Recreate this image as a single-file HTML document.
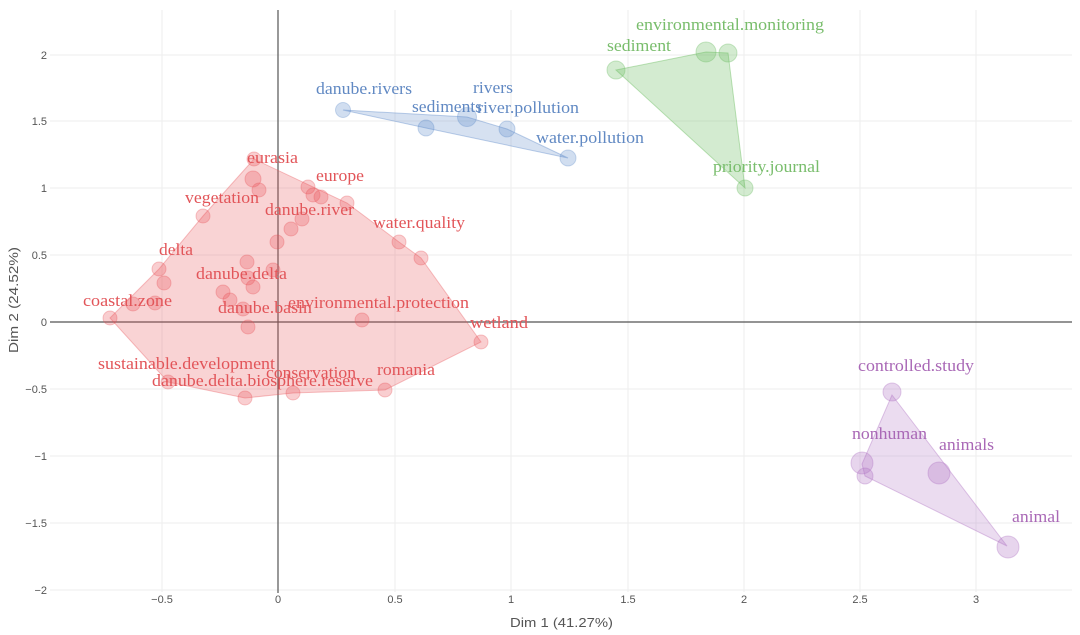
<!DOCTYPE html>
<html><head><meta charset="utf-8">
<style>
html,body{margin:0;padding:0;background:#fff;}
svg{display:block;}
.t{font-family:"Liberation Sans",sans-serif;font-size:11px;fill:#555;}
.lr{font-family:"Liberation Serif",serif;font-size:17px;fill:#e25559;}
.lb{font-family:"Liberation Serif",serif;font-size:17px;fill:#6189c3;}
.lg{font-family:"Liberation Serif",serif;font-size:17px;fill:#79bd6c;}
.lp{font-family:"Liberation Serif",serif;font-size:17px;fill:#a968b6;}
</style></head>
<body>
<svg width="1080" height="635" viewBox="0 0 1080 635" xmlns="http://www.w3.org/2000/svg">
<rect width="1080" height="635" fill="#fff"/>
<!-- grid -->
<g stroke="#eeeeee" stroke-width="1">
<line x1="162" y1="10" x2="162" y2="592"/>
<line x1="395" y1="10" x2="395" y2="592"/>
<line x1="511" y1="10" x2="511" y2="592"/>
<line x1="628" y1="10" x2="628" y2="592"/>
<line x1="744" y1="10" x2="744" y2="592"/>
<line x1="860" y1="10" x2="860" y2="592"/>
<line x1="976" y1="10" x2="976" y2="592"/>
<line x1="50" y1="55" x2="1072" y2="55"/>
<line x1="50" y1="121" x2="1072" y2="121"/>
<line x1="50" y1="188" x2="1072" y2="188"/>
<line x1="50" y1="255" x2="1072" y2="255"/>
<line x1="50" y1="389" x2="1072" y2="389"/>
<line x1="50" y1="456" x2="1072" y2="456"/>
<line x1="50" y1="523" x2="1072" y2="523"/>
<line x1="50" y1="590" x2="1072" y2="590"/>
</g>
<!-- zero lines -->
<line x1="50" y1="322" x2="1072" y2="322" stroke="#555" stroke-width="1.2"/>
<line x1="278" y1="10" x2="278" y2="593" stroke="#555" stroke-width="1.2"/>

<!-- red hull -->
<polygon points="110,318 159,269 203,216 254,159 347,203 399,242 421,258 481,342 385,390 293,393 245,398 168,382" fill="rgba(232,80,85,0.25)" stroke="rgba(232,80,85,0.35)" stroke-width="1"/>
<g fill="rgba(232,80,85,0.28)" stroke="rgba(232,80,85,0.3)" stroke-width="1">
<circle cx="110" cy="318" r="7"/><circle cx="133" cy="304" r="7"/><circle cx="155" cy="303" r="7"/>
<circle cx="159" cy="269" r="7"/><circle cx="164" cy="283" r="7"/><circle cx="203" cy="216" r="7"/>
<circle cx="223" cy="292" r="7"/><circle cx="230" cy="300" r="7"/><circle cx="243" cy="309" r="7"/>
<circle cx="248" cy="327" r="7"/><circle cx="247" cy="262" r="7"/><circle cx="248" cy="278" r="7"/>
<circle cx="253" cy="287" r="7"/><circle cx="273" cy="270" r="7"/><circle cx="254" cy="159" r="7"/>
<circle cx="253" cy="179" r="8"/><circle cx="259" cy="190" r="7"/><circle cx="277" cy="242" r="7"/>
<circle cx="291" cy="229" r="7"/><circle cx="302" cy="219" r="7"/><circle cx="308" cy="187" r="7"/>
<circle cx="313" cy="195" r="7"/><circle cx="321" cy="197" r="7"/><circle cx="347" cy="203" r="7"/>
<circle cx="399" cy="242" r="7"/><circle cx="421" cy="258" r="7"/><circle cx="362" cy="320" r="7"/>
<circle cx="481" cy="342" r="7"/><circle cx="385" cy="390" r="7"/><circle cx="293" cy="393" r="7"/>
<circle cx="245" cy="398" r="7"/><circle cx="168" cy="382" r="7"/>
</g>

<!-- blue -->
<polygon points="343,110 467,117 507,129 568,158 426,128" fill="rgba(90,135,200,0.25)" stroke="rgba(90,135,200,0.4)" stroke-width="1"/>
<g fill="rgba(90,135,200,0.28)" stroke="rgba(90,135,200,0.3)" stroke-width="1">
<circle cx="343" cy="110" r="7.5"/><circle cx="426" cy="128" r="8"/><circle cx="467" cy="117" r="9.5"/>
<circle cx="507" cy="129" r="8"/><circle cx="568" cy="158" r="8"/>
</g>

<!-- green -->
<polygon points="616,70 706,52 728,53 745,188" fill="rgba(110,190,100,0.3)" stroke="rgba(110,190,100,0.45)" stroke-width="1"/>
<g fill="rgba(110,190,100,0.3)" stroke="rgba(110,190,100,0.35)" stroke-width="1">
<circle cx="616" cy="70" r="9"/><circle cx="706" cy="52" r="10"/><circle cx="728" cy="53" r="9"/>
<circle cx="745" cy="188" r="8"/>
</g>

<!-- purple -->
<polygon points="892,395 1007,546 865,476 862,464" fill="rgba(175,115,195,0.25)" stroke="rgba(175,115,195,0.4)" stroke-width="1"/>
<g fill="rgba(175,115,195,0.3)" stroke="rgba(175,115,195,0.35)" stroke-width="1">
<circle cx="892" cy="392" r="9"/><circle cx="862" cy="463" r="11"/><circle cx="865" cy="476" r="8"/>
<circle cx="939" cy="473" r="11"/><circle cx="1008" cy="547" r="11"/>
</g>

<!-- red labels -->
<g class="lr">
<text x="247" y="163" textLength="51" lengthAdjust="spacingAndGlyphs">eurasia</text>
<text x="316" y="181" textLength="48" lengthAdjust="spacingAndGlyphs">europe</text>
<text x="185" y="203" textLength="74" lengthAdjust="spacingAndGlyphs">vegetation</text>
<text x="265" y="215" textLength="89" lengthAdjust="spacingAndGlyphs">danube.river</text>
<text x="373" y="228" textLength="92" lengthAdjust="spacingAndGlyphs">water.quality</text>
<text x="159" y="255" textLength="34" lengthAdjust="spacingAndGlyphs">delta</text>
<text x="196" y="279" textLength="91" lengthAdjust="spacingAndGlyphs">danube.delta</text>
<text x="83" y="306" textLength="89" lengthAdjust="spacingAndGlyphs">coastal.zone</text>
<text x="288" y="308" textLength="181" lengthAdjust="spacingAndGlyphs">environmental.protection</text>
<text x="218" y="313" textLength="94" lengthAdjust="spacingAndGlyphs">danube.basin</text>
<text x="470" y="328" textLength="58" lengthAdjust="spacingAndGlyphs">wetland</text>
<text x="98" y="369" textLength="177" lengthAdjust="spacingAndGlyphs">sustainable.development</text>
<text x="266" y="378" textLength="90" lengthAdjust="spacingAndGlyphs">conservation</text>
<text x="377" y="375" textLength="58" lengthAdjust="spacingAndGlyphs">romania</text>
<text x="152" y="386" textLength="221" lengthAdjust="spacingAndGlyphs">danube.delta.biosphere.reserve</text>
</g>
<!-- blue labels -->
<g class="lb">
<text x="316" y="94" textLength="96" lengthAdjust="spacingAndGlyphs">danube.rivers</text>
<text x="473" y="93" textLength="40" lengthAdjust="spacingAndGlyphs">rivers</text>
<text x="412" y="112" textLength="70" lengthAdjust="spacingAndGlyphs">sediments</text>
<text x="477" y="113" textLength="102" lengthAdjust="spacingAndGlyphs">river.pollution</text>
<text x="536" y="143" textLength="108" lengthAdjust="spacingAndGlyphs">water.pollution</text>
</g>
<!-- green labels -->
<g class="lg">
<text x="636" y="30" textLength="188" lengthAdjust="spacingAndGlyphs">environmental.monitoring</text>
<text x="607" y="51" textLength="64" lengthAdjust="spacingAndGlyphs">sediment</text>
<text x="713" y="172" textLength="107" lengthAdjust="spacingAndGlyphs">priority.journal</text>
</g>
<!-- purple labels -->
<g class="lp">
<text x="858" y="371" textLength="116" lengthAdjust="spacingAndGlyphs">controlled.study</text>
<text x="852" y="439" textLength="75" lengthAdjust="spacingAndGlyphs">nonhuman</text>
<text x="939" y="450" textLength="55" lengthAdjust="spacingAndGlyphs">animals</text>
<text x="1012" y="522" textLength="48" lengthAdjust="spacingAndGlyphs">animal</text>
</g>

<!-- y tick labels -->
<g class="t" text-anchor="end">
<text x="47" y="59">2</text>
<text x="47" y="125">1.5</text>
<text x="47" y="192">1</text>
<text x="47" y="259">0.5</text>
<text x="47" y="326">0</text>
<text x="47" y="393">−0.5</text>
<text x="47" y="460">−1</text>
<text x="47" y="527">−1.5</text>
<text x="47" y="594">−2</text>
</g>
<!-- x tick labels -->
<g class="t" text-anchor="middle">
<text x="162" y="603">−0.5</text>
<text x="278" y="603">0</text>
<text x="395" y="603">0.5</text>
<text x="511" y="603">1</text>
<text x="628" y="603">1.5</text>
<text x="744" y="603">2</text>
<text x="860" y="603">2.5</text>
<text x="976" y="603">3</text>
</g>
<text x="510" y="627" textLength="103" lengthAdjust="spacingAndGlyphs" font-family="Liberation Sans, sans-serif" font-size="13" fill="#555">Dim 1 (41.27%)</text>
<text transform="translate(18,353) rotate(-90)" textLength="106" lengthAdjust="spacingAndGlyphs" font-family="Liberation Sans, sans-serif" font-size="13" fill="#555">Dim 2 (24.52%)</text>
</svg>
</body></html>
